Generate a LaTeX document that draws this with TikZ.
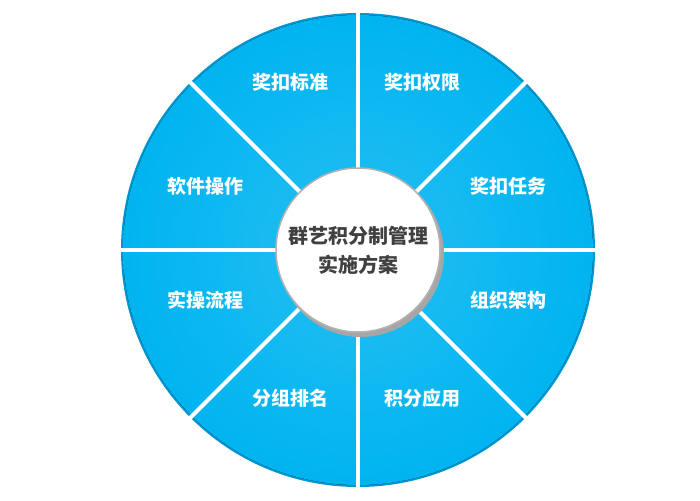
\documentclass[tikz,border=0pt]{standalone}
\usepackage{fontspec}
\newfontfamily\cjk{Noto Sans CJK SC}
\definecolor{cy}{RGB}{0,180,240}
\definecolor{cyd}{RGB}{0,150,210}
\definecolor{tx}{RGB}{64,64,64}
\tikzset{lab/.style={text=white,font=\cjk\bfseries\fontsize{19}{22}\selectfont}}
\begin{document}
\begin{tikzpicture}[x=1pt,y=-1pt]
\useasboundingbox (0,0) rectangle (700,500);
\coordinate (c) at (358,250);
\fill[cyd] (c) circle (237);
\fill[inner color=cy!85!white,outer color=cy] (c) circle (235);
\foreach \a in {0,45,...,315}{
  \draw[white,line width=4pt] (c) -- ++(\a:240);
}
\fill[black!35] (361,254) circle (83);
\fill[white,draw=black!30,line width=1.5pt] (c) circle (82);
\node[font=\cjk\bfseries\fontsize{20}{29}\selectfont,text=tx,align=center] (ctr) at (c) {群艺积分制管理\\实施方案};
\node[lab] (n1) at (422,82) {奖扣权限};
\node[lab] (n2) at (508,186) {奖扣任务};
\node[lab] (n3) at (508,300) {组织架构};
\node[lab] (n4) at (422,398) {积分应用};
\node[lab] (n5) at (290,398) {分组排名};
\node[lab] (n6) at (205,300) {实操流程};
\node[lab] (n7) at (205,186) {软件操作};
\node[lab] (n8) at (290,82) {奖扣标准};
\end{tikzpicture}
\end{document}
